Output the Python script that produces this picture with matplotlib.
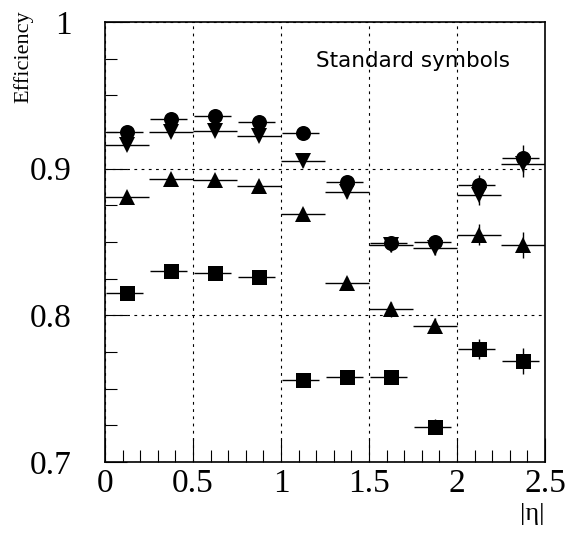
import numpy as np
import matplotlib
matplotlib.use('Agg')
import matplotlib.pyplot as plt
from matplotlib.ticker import MultipleLocator

# |eta| bins
bin_lo = np.arange(0.0, 2.5, 0.25)
bin_c = bin_lo + 0.125

eff_circle = [0.925, 0.934, 0.936, 0.932, 0.924, 0.891, 0.849, 0.850, 0.889, 0.907]
eff_down = [0.916, 0.925, 0.926, 0.922, 0.905, 0.884, 0.848, 0.846, 0.882, 0.903]
eff_up = [0.881, 0.893, 0.892, 0.888, 0.869, 0.822, 0.804, 0.793, 0.855, 0.848]
eff_square = [0.815, 0.830, 0.829, 0.826, 0.756, 0.758, 0.758, 0.724, 0.777, 0.769]
err_y = [0.003, 0.003, 0.003, 0.003, 0.004, 0.004, 0.005, 0.005, 0.007, 0.009]

x_ticks = [0, 0.5, 1, 1.5, 2, 2.5]
x_labels = ['0', '0.5', '1', '1.5', '2', '2.5']
y_ticks = [0.7, 0.8, 0.9, 1.0]
y_labels = ['0.7', '0.8', '0.9', '1']

plt.rcParams['font.family'] = ['Liberation Serif', 'DejaVu Serif']

fig = plt.figure(figsize=(5.67, 5.34), dpi=100)
ax = fig.add_axes([105 / 567, 72 / 534, 440 / 567, 440 / 534])

# circles and squares have a shorter bar on the right side
xerr_short = [[0.12] * 10, [0.09] * 10]
xerr_full = [[0.125] * 10, [0.125] * 10]

series = [
    (eff_square, 's', 10.8, xerr_short),
    (eff_up, '^', 11.0, xerr_full),
    (eff_down, 'v', 11.0, xerr_full),
    (eff_circle, 'o', 10.8, xerr_short),
]
for vals, mk, ms, xe in series:
    ax.errorbar(bin_c, vals, xerr=xe, yerr=err_y, fmt=mk, color='black',
                ms=ms, mew=0, elinewidth=1.0, capsize=0, zorder=3)

ax.set_xlim(0, 2.5)
ax.set_ylim(0.7, 1.0)
ax.set_xticks(x_ticks)
ax.set_xticklabels(x_labels)
ax.xaxis.set_minor_locator(MultipleLocator(0.1))
ax.set_yticks(y_ticks)
ax.set_yticklabels(y_labels)
ax.yaxis.set_minor_locator(MultipleLocator(0.025))

ax.tick_params(which='both', direction='in', top=False, right=False, width=0.8)
ax.tick_params(axis='x', which='major', length=17, pad=5, labelsize=24)
ax.tick_params(axis='x', which='minor', length=8.5)
ax.tick_params(axis='y', which='major', length=16, pad=24, labelsize=24)
ax.tick_params(axis='y', which='minor', length=8.5)
for s in ax.spines.values():
    s.set_linewidth(1.2)

ax.grid(True, which='major', color='black', linestyle=(0, (2.5, 4)), linewidth=0.8)

ax.text(0.48, 0.912, 'Standard symbols', transform=ax.transAxes,
        family='DejaVu Sans', fontsize=15.5, va='center', ha='left')

fig.text(23 / 567, 1 - 10 / 534, 'Efficiency', rotation=90, ha='center', va='top', fontsize=16)
fig.text(545 / 567, 1 - 503 / 534, '|η|', ha='right', va='top', fontsize=19)

plt.savefig('out.png', dpi=100)
